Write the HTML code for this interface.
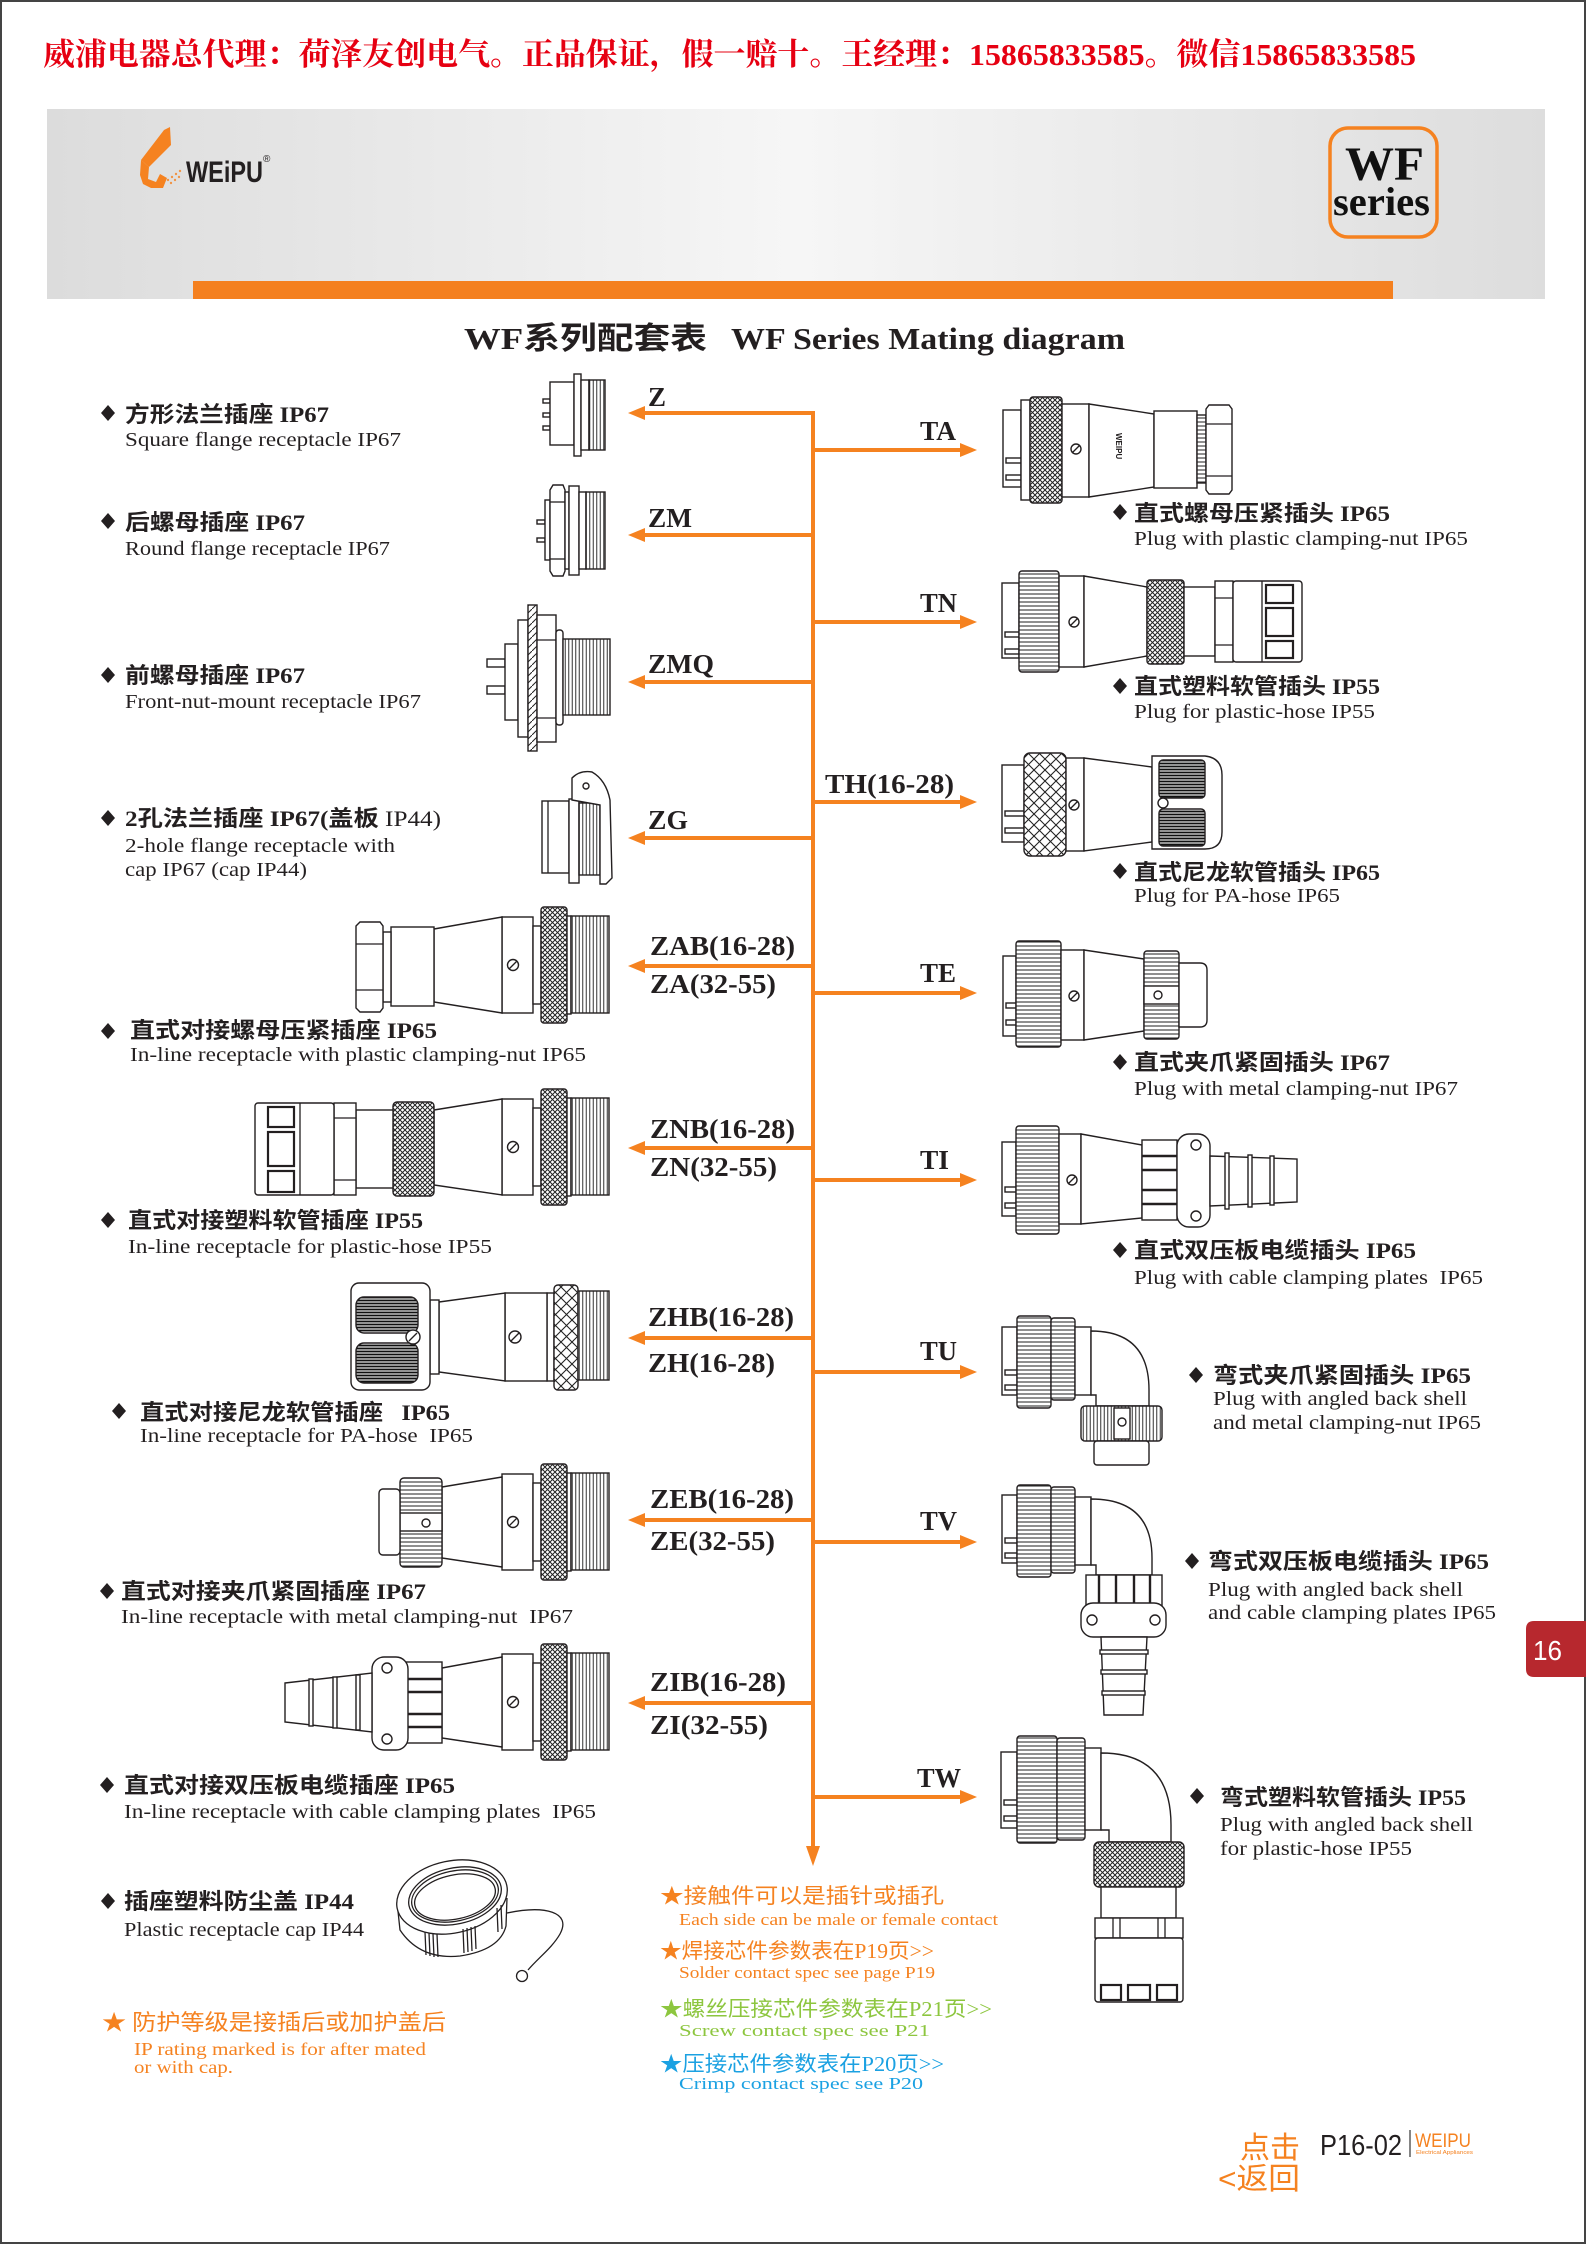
<!DOCTYPE html>
<html><head><meta charset="utf-8"><style>
html,body{margin:0;padding:0;background:#fff;}
svg{display:block;}
.h{font-family:"Liberation Serif","Noto Sans CJK SC",sans-serif;font-weight:bold;font-size:22px;fill:#231f20;}
.s{font-family:"Liberation Serif",serif;font-size:20px;fill:#231f20;}
.l{font-family:"Liberation Serif",serif;font-weight:bold;font-size:27px;fill:#231f20;}
.n{font-family:"Liberation Serif","Noto Sans CJK SC",sans-serif;font-size:21px;}
.ns{font-family:"Liberation Serif",serif;font-size:17px;}
.o{fill:#fff;stroke:#231f20;stroke-width:1.4;}
.p{stroke:#231f20;stroke-width:1.4;}
.ln{stroke:#231f20;stroke-width:1.3;fill:none;}
.bar{stroke:#231f20;stroke-width:2.4;fill:none;}
.or{fill:#f58220;}
.arr{stroke:#f58220;stroke-width:4;fill:none;}
</style></head><body>
<svg width="1588" height="2245" viewBox="0 0 1588 2245" xmlns="http://www.w3.org/2000/svg">
<defs>
<pattern id="kn" width="5" height="5" patternUnits="userSpaceOnUse"><rect width="5" height="5" fill="#fff"/><path d="M0,0L5,5M5,0L0,5" stroke="#222" stroke-width="1"/></pattern>
<pattern id="kd" width="11" height="11" patternUnits="userSpaceOnUse"><rect width="11" height="11" fill="#fff"/><path d="M0,0L11,11M11,0L0,11" stroke="#222" stroke-width="1.1"/></pattern>
<pattern id="rh" width="4" height="4" patternUnits="userSpaceOnUse"><rect width="4" height="4" fill="#fff"/><path d="M0,2H4" stroke="#333" stroke-width="1.1"/></pattern>
<pattern id="rv" width="3.5" height="4" patternUnits="userSpaceOnUse"><rect width="3.5" height="4" fill="#fff"/><path d="M1.75,0V4" stroke="#333" stroke-width="1"/></pattern>
<pattern id="dk" width="4" height="3" patternUnits="userSpaceOnUse"><rect width="4" height="3" fill="#fff"/><path d="M0,1.5H4" stroke="#111" stroke-width="1.9"/></pattern>
<pattern id="hd" width="7" height="7" patternUnits="userSpaceOnUse"><rect width="7" height="7" fill="#fff"/><path d="M0,7L7,0" stroke="#222" stroke-width="1"/></pattern>
<linearGradient id="bg" x1="0" y1="0" x2="1" y2="0">
<stop offset="0" stop-color="#dcdcdc"/><stop offset="0.5" stop-color="#f6f6f6"/><stop offset="1" stop-color="#dddddd"/>
</linearGradient>
<g id="rf">
 <rect class="o" x="502" y="-48" width="31" height="96"/>
 <circle class="o" cx="513" cy="0" r="5.5"/><line class="ln" x1="509" y1="4" x2="517" y2="-4"/>
 <rect class="o" x="533" y="-39" width="8" height="78"/>
 <rect class="p" x="541" y="-58" width="26" height="116" rx="3" fill="url(#kn)"/>
 <rect class="o" x="567" y="-49" width="4" height="98"/>
 <rect class="p" x="571" y="-49" width="38" height="97" fill="url(#rv)"/>
</g>
</defs>

<!-- border -->
<rect x="1" y="1" width="1584" height="2242" fill="none" stroke="#444" stroke-width="2"/>

<!-- red header text -->
<text x="43" y="65" textLength="1373" lengthAdjust="spacingAndGlyphs" style="font-family:'Liberation Serif','Noto Serif CJK SC',serif;font-weight:bold;font-size:31px;fill:#e60012;">威浦电器总代理：荷泽友创电气。正品保证，假一赔十。王经理：15865833585。微信15865833585</text>

<!-- banner -->
<rect x="47" y="109" width="1498" height="190" fill="url(#bg)"/>
<rect x="193" y="281" width="1200" height="18" fill="#f4801f"/>
<!-- logo -->
<polygon class="or" points="164,130 170,127 171,145 149,167 141,160"/>
<polygon class="or" points="141,160 149,167 148,179 156,182 160,174 167,178 163,188 151,188 143,184 140,175"/>
<g fill="#f58220" opacity="0.8"><circle cx="168" cy="180" r="1.2"/><circle cx="172" cy="177" r="1.2"/><circle cx="176" cy="174" r="1.2"/><circle cx="180" cy="171" r="1.2"/><circle cx="171" cy="183" r="1.2"/><circle cx="175" cy="180" r="1.2"/><circle cx="179" cy="177" r="1.2"/></g>
<text x="186" y="182" textLength="77" lengthAdjust="spacingAndGlyphs" style="font-family:'Liberation Sans',sans-serif;font-weight:bold;font-size:30px;fill:#231f20;">WEiPU</text>
<text x="263" y="162" style="font-family:'Liberation Sans',sans-serif;font-size:10px;fill:#231f20;">®</text>
<!-- WF series -->
<rect x="1330" y="128" width="107" height="109" rx="18" fill="none" stroke="#f58220" stroke-width="3.5"/>
<text x="1345" y="180" textLength="79" lengthAdjust="spacingAndGlyphs" style="font-family:'Liberation Serif',serif;font-weight:bold;font-size:48px;fill:#111;">WF</text>
<text x="1333" y="215" textLength="97" lengthAdjust="spacingAndGlyphs" style="font-family:'Liberation Serif',serif;font-weight:bold;font-size:40px;fill:#111;">series</text>

<!-- title -->
<text x="464" y="349" textLength="243" lengthAdjust="spacingAndGlyphs" style="font-family:'Liberation Serif','Noto Sans CJK SC',sans-serif;font-weight:bold;font-size:31px;fill:#231f20;">WF系列配套表</text>
<text x="731" y="349" textLength="394" lengthAdjust="spacingAndGlyphs" style="font-family:'Liberation Serif',serif;font-weight:bold;font-size:31px;fill:#231f20;">WF Series Mating diagram</text>

<!-- trunk & arrows -->
<line class="arr" x1="813" y1="411" x2="813" y2="1850"/>
<polygon class="or" points="813,1866 806,1846 820,1846"/>
<g class="arr">
<line x1="640" y1="413" x2="815" y2="413"/>
<line x1="640" y1="535" x2="815" y2="535"/>
<line x1="640" y1="682" x2="815" y2="682"/>
<line x1="640" y1="838" x2="815" y2="838"/>
<line x1="640" y1="966" x2="815" y2="966"/>
<line x1="640" y1="1148" x2="815" y2="1148"/>
<line x1="640" y1="1338" x2="815" y2="1338"/>
<line x1="640" y1="1520" x2="815" y2="1520"/>
<line x1="640" y1="1703" x2="815" y2="1703"/>
<line x1="811" y1="450" x2="962" y2="450"/>
<line x1="811" y1="622" x2="962" y2="622"/>
<line x1="811" y1="802" x2="962" y2="802"/>
<line x1="811" y1="993" x2="962" y2="993"/>
<line x1="811" y1="1180" x2="962" y2="1180"/>
<line x1="811" y1="1372" x2="962" y2="1372"/>
<line x1="811" y1="1542" x2="962" y2="1542"/>
<line x1="811" y1="1797" x2="962" y2="1797"/>
</g>
<g class="or">
<polygon points="628,413 645,406 645,420"/>
<polygon points="628,535 645,528 645,542"/>
<polygon points="628,682 645,675 645,689"/>
<polygon points="628,838 645,831 645,845"/>
<polygon points="628,966 645,959 645,973"/>
<polygon points="628,1148 645,1141 645,1155"/>
<polygon points="628,1338 645,1331 645,1345"/>
<polygon points="628,1520 645,1513 645,1527"/>
<polygon points="628,1703 645,1696 645,1710"/>
<polygon points="977,450 960,443 960,457"/>
<polygon points="977,622 960,615 960,629"/>
<polygon points="977,802 960,795 960,809"/>
<polygon points="977,993 960,986 960,1000"/>
<polygon points="977,1180 960,1173 960,1187"/>
<polygon points="977,1372 960,1365 960,1379"/>
<polygon points="977,1542 960,1535 960,1549"/>
<polygon points="977,1797 960,1790 960,1804"/>
</g>

<!-- labels left -->
<text class="l" x="648" y="406" textLength="18" lengthAdjust="spacingAndGlyphs">Z</text>
<text class="l" x="648" y="527" textLength="44" lengthAdjust="spacingAndGlyphs">ZM</text>
<text class="l" x="648" y="673" textLength="66" lengthAdjust="spacingAndGlyphs">ZMQ</text>
<text class="l" x="648" y="829" textLength="40" lengthAdjust="spacingAndGlyphs">ZG</text>
<text class="l" x="650" y="955" textLength="145" lengthAdjust="spacingAndGlyphs">ZAB(16-28)</text>
<text class="l" x="650" y="993" textLength="126" lengthAdjust="spacingAndGlyphs">ZA(32-55)</text>
<text class="l" x="650" y="1138" textLength="145" lengthAdjust="spacingAndGlyphs">ZNB(16-28)</text>
<text class="l" x="650" y="1176" textLength="127" lengthAdjust="spacingAndGlyphs">ZN(32-55)</text>
<text class="l" x="648" y="1326" textLength="146" lengthAdjust="spacingAndGlyphs">ZHB(16-28)</text>
<text class="l" x="648" y="1372" textLength="127" lengthAdjust="spacingAndGlyphs">ZH(16-28)</text>
<text class="l" x="650" y="1508" textLength="144" lengthAdjust="spacingAndGlyphs">ZEB(16-28)</text>
<text class="l" x="650" y="1550" textLength="125" lengthAdjust="spacingAndGlyphs">ZE(32-55)</text>
<text class="l" x="650" y="1691" textLength="136" lengthAdjust="spacingAndGlyphs">ZIB(16-28)</text>
<text class="l" x="650" y="1734" textLength="118" lengthAdjust="spacingAndGlyphs">ZI(32-55)</text>
<!-- labels right -->
<text class="l" x="920" y="440" textLength="36" lengthAdjust="spacingAndGlyphs">TA</text>
<text class="l" x="920" y="612" textLength="37" lengthAdjust="spacingAndGlyphs">TN</text>
<text class="l" x="825" y="793" textLength="129" lengthAdjust="spacingAndGlyphs">TH(16-28)</text>
<text class="l" x="920" y="982" textLength="36" lengthAdjust="spacingAndGlyphs">TE</text>
<text class="l" x="920" y="1169" textLength="29" lengthAdjust="spacingAndGlyphs">TI</text>
<text class="l" x="920" y="1360" textLength="37" lengthAdjust="spacingAndGlyphs">TU</text>
<text class="l" x="920" y="1530" textLength="37" lengthAdjust="spacingAndGlyphs">TV</text>
<text class="l" x="917" y="1787" textLength="44" lengthAdjust="spacingAndGlyphs">TW</text>

<!-- diamonds -->
<g fill="#231f20">
<polygon points="108,405 115,413 108,421 101,413"/>
<polygon points="108,513 115,521 108,529 101,521"/>
<polygon points="108,667 115,675 108,683 101,675"/>
<polygon points="108,810 115,818 108,826 101,818"/>
<polygon points="108,1023 115,1031 108,1039 101,1031"/>
<polygon points="108,1212 115,1220 108,1228 101,1220"/>
<polygon points="119,1403 126,1411 119,1419 112,1411"/>
<polygon points="107,1583 114,1591 107,1599 100,1591"/>
<polygon points="107,1777 114,1785 107,1793 100,1785"/>
<polygon points="108,1893 115,1901 108,1909 101,1901"/>
<polygon points="1120,504 1127,512 1120,520 1113,512"/>
<polygon points="1120,678 1127,686 1120,694 1113,686"/>
<polygon points="1120,863 1127,871 1120,879 1113,871"/>
<polygon points="1120,1054 1127,1062 1120,1070 1113,1062"/>
<polygon points="1120,1242 1127,1250 1120,1258 1113,1250"/>
<polygon points="1196,1367 1203,1375 1196,1383 1189,1375"/>
<polygon points="1192,1553 1199,1561 1192,1569 1185,1561"/>
<polygon points="1197,1788 1204,1796 1197,1804 1190,1796"/>
</g>

<!-- left headings -->
<text class="h" x="125" y="422" textLength="204" lengthAdjust="spacingAndGlyphs">方形法兰插座 IP67</text>
<text class="s" x="125" y="446" textLength="276" lengthAdjust="spacingAndGlyphs">Square flange receptacle IP67</text>
<text class="h" x="125" y="530" textLength="180" lengthAdjust="spacingAndGlyphs">后螺母插座 IP67</text>
<text class="s" x="125" y="555" textLength="265" lengthAdjust="spacingAndGlyphs">Round flange receptacle IP67</text>
<text class="h" x="125" y="683" textLength="180" lengthAdjust="spacingAndGlyphs">前螺母插座 IP67</text>
<text class="s" x="125" y="708" textLength="296" lengthAdjust="spacingAndGlyphs">Front-nut-mount receptacle IP67</text>
<text class="h" x="125" y="826" textLength="316" lengthAdjust="spacingAndGlyphs">2孔法兰插座 IP67(盖板 <tspan style="font-weight:normal">IP44)</tspan></text>
<text class="s" x="125" y="852" textLength="270" lengthAdjust="spacingAndGlyphs">2-hole flange receptacle with</text>
<text class="s" x="125" y="876" textLength="182" lengthAdjust="spacingAndGlyphs">cap IP67 (cap IP44)</text>
<text class="h" x="130" y="1038" textLength="307" lengthAdjust="spacingAndGlyphs">直式对接螺母压紧插座 IP65</text>
<text class="s" x="130" y="1061" textLength="456" lengthAdjust="spacingAndGlyphs">In-line receptacle with plastic clamping-nut IP65</text>
<text class="h" x="128" y="1228" textLength="295" lengthAdjust="spacingAndGlyphs">直式对接塑料软管插座 IP55</text>
<text class="s" x="128" y="1253" textLength="364" lengthAdjust="spacingAndGlyphs">In-line receptacle for plastic-hose IP55</text>
<text class="h" x="140" y="1420" textLength="310" lengthAdjust="spacingAndGlyphs">直式对接尼龙软管插座&#160;&#160; IP65</text>
<text class="s" x="140" y="1442" textLength="333" lengthAdjust="spacingAndGlyphs">In-line receptacle for PA-hose&#160; IP65</text>
<text class="h" x="121" y="1599" textLength="305" lengthAdjust="spacingAndGlyphs">直式对接夹爪紧固插座 IP67</text>
<text class="s" x="121" y="1623" textLength="452" lengthAdjust="spacingAndGlyphs">In-line receptacle with metal clamping-nut&#160; IP67</text>
<text class="h" x="124" y="1793" textLength="331" lengthAdjust="spacingAndGlyphs">直式对接双压板电缆插座 IP65</text>
<text class="s" x="124" y="1818" textLength="472" lengthAdjust="spacingAndGlyphs">In-line receptacle with cable clamping plates&#160; IP65</text>
<text class="h" x="124" y="1909" textLength="230" lengthAdjust="spacingAndGlyphs">插座塑料防尘盖 IP44</text>
<text class="s" x="124" y="1936" textLength="240" lengthAdjust="spacingAndGlyphs">Plastic receptacle cap IP44</text>

<!-- right headings -->
<text class="h" x="1134" y="521" textLength="256" lengthAdjust="spacingAndGlyphs">直式螺母压紧插头 IP65</text>
<text class="s" x="1134" y="545" textLength="334" lengthAdjust="spacingAndGlyphs">Plug with plastic clamping-nut IP65</text>
<text class="h" x="1134" y="694" textLength="246" lengthAdjust="spacingAndGlyphs">直式塑料软管插头 IP55</text>
<text class="s" x="1134" y="718" textLength="241" lengthAdjust="spacingAndGlyphs">Plug for plastic-hose IP55</text>
<text class="h" x="1134" y="880" textLength="246" lengthAdjust="spacingAndGlyphs">直式尼龙软管插头 IP65</text>
<text class="s" x="1134" y="902" textLength="206" lengthAdjust="spacingAndGlyphs">Plug for PA-hose IP65</text>
<text class="h" x="1134" y="1070" textLength="256" lengthAdjust="spacingAndGlyphs">直式夹爪紧固插头 IP67</text>
<text class="s" x="1134" y="1095" textLength="324" lengthAdjust="spacingAndGlyphs">Plug with metal clamping-nut IP67</text>
<text class="h" x="1134" y="1258" textLength="282" lengthAdjust="spacingAndGlyphs">直式双压板电缆插头 IP65</text>
<text class="s" x="1134" y="1284" textLength="349" lengthAdjust="spacingAndGlyphs">Plug with cable clamping plates&#160; IP65</text>
<text class="h" x="1213" y="1383" textLength="258" lengthAdjust="spacingAndGlyphs">弯式夹爪紧固插头 IP65</text>
<text class="s" x="1213" y="1405" textLength="254" lengthAdjust="spacingAndGlyphs">Plug with angled back shell</text>
<text class="s" x="1213" y="1429" textLength="268" lengthAdjust="spacingAndGlyphs">and metal clamping-nut IP65</text>
<text class="h" x="1208" y="1569" textLength="281" lengthAdjust="spacingAndGlyphs">弯式双压板电缆插头 IP65</text>
<text class="s" x="1208" y="1596" textLength="255" lengthAdjust="spacingAndGlyphs">Plug with angled back shell</text>
<text class="s" x="1208" y="1619" textLength="288" lengthAdjust="spacingAndGlyphs">and cable clamping plates IP65</text>
<text class="h" x="1220" y="1805" textLength="246" lengthAdjust="spacingAndGlyphs">弯式塑料软管插头 IP55</text>
<text class="s" x="1220" y="1831" textLength="253" lengthAdjust="spacingAndGlyphs">Plug with angled back shell</text>
<text class="s" x="1220" y="1855" textLength="192" lengthAdjust="spacingAndGlyphs">for plastic-hose IP55</text>

<!-- notes -->
<text class="n" x="102" y="2030" textLength="344" lengthAdjust="spacingAndGlyphs" style="fill:#f58220;font-size:22px;">★ 防护等级是接插后或加护盖后</text>
<text class="ns" x="134" y="2055" textLength="292" lengthAdjust="spacingAndGlyphs" style="fill:#f58220;font-size:18px;">IP rating marked is for after mated</text>
<text class="ns" x="134" y="2073" textLength="99" lengthAdjust="spacingAndGlyphs" style="fill:#f58220;font-size:18px;">or with cap.</text>

<text class="n" x="660" y="1903" textLength="284" lengthAdjust="spacingAndGlyphs" style="fill:#f58220;">★接触件可以是插针或插孔</text>
<text class="ns" x="679" y="1925" textLength="319" lengthAdjust="spacingAndGlyphs" style="fill:#f58220;">Each side can be male or female contact</text>
<text class="n" x="660" y="1958" textLength="274" lengthAdjust="spacingAndGlyphs" style="fill:#f58220;">★焊接芯件参数表在P19页&gt;&gt;</text>
<text class="ns" x="679" y="1978" textLength="256" lengthAdjust="spacingAndGlyphs" style="fill:#f58220;">Solder contact spec see page P19</text>
<text class="n" x="660" y="2016" textLength="332" lengthAdjust="spacingAndGlyphs" style="fill:#8dc63f;">★螺丝压接芯件参数表在P21页&gt;&gt;</text>
<text class="ns" x="679" y="2036" textLength="251" lengthAdjust="spacingAndGlyphs" style="fill:#8dc63f;">Screw contact spec see P21</text>
<text class="n" x="660" y="2071" textLength="284" lengthAdjust="spacingAndGlyphs" style="fill:#1ba1e2;">★压接芯件参数表在P20页&gt;&gt;</text>
<text class="ns" x="679" y="2089" textLength="244" lengthAdjust="spacingAndGlyphs" style="fill:#1ba1e2;">Crimp contact spec see P20</text>

<!-- page tab -->
<path d="M1534,1621 L1586,1621 L1586,1677 L1534,1677 Q1526,1677 1526,1669 L1526,1629 Q1526,1621 1534,1621 Z" fill="#b7282e"/>
<text x="1533" y="1660" textLength="29" lengthAdjust="spacingAndGlyphs" style="font-family:'Liberation Sans',sans-serif;font-size:28px;fill:#fff;">16</text>

<!-- footer -->
<text x="1240" y="2158" textLength="60" lengthAdjust="spacingAndGlyphs" style="font-family:'Noto Sans CJK SC',sans-serif;font-size:30px;fill:#f58220;">点击</text>
<text x="1218" y="2189" textLength="82" lengthAdjust="spacingAndGlyphs" style="font-family:'Liberation Sans','Noto Sans CJK SC',sans-serif;font-size:30px;fill:#f58220;">&lt;返回</text>
<text x="1320" y="2155" textLength="82" lengthAdjust="spacingAndGlyphs" style="font-family:'Liberation Sans',sans-serif;font-size:29px;fill:#231f20;">P16-02</text>
<line x1="1410" y1="2130" x2="1410" y2="2157" stroke="#333" stroke-width="1.2"/>
<text x="1415" y="2147" textLength="56" lengthAdjust="spacingAndGlyphs" style="font-family:'Liberation Sans',sans-serif;font-size:19px;fill:#f58220;">WEIPU</text>
<text x="1416" y="2154" textLength="57" lengthAdjust="spacingAndGlyphs" style="font-family:'Liberation Sans',sans-serif;font-size:5.5px;fill:#f58220;">Electrical Appliances</text>

<!-- ===== LEFT CONNECTORS ===== -->
<!-- Z -->
<g>
<rect class="o" x="543" y="399" width="7" height="4"/>
<rect class="o" x="543" y="413" width="7" height="4"/>
<rect class="o" x="543" y="426" width="7" height="4"/>
<rect class="o" x="550" y="382" width="24" height="63"/>
<rect class="o" x="574" y="374" width="7" height="82"/>
<rect class="o" x="581" y="380" width="8" height="70"/>
<rect class="p" x="589" y="380" width="16" height="70" fill="url(#rv)"/>
</g>
<!-- ZM -->
<g>
<rect class="o" x="537" y="520" width="8" height="4"/>
<rect class="o" x="537" y="538" width="8" height="4"/>
<rect class="o" x="545" y="500" width="5" height="60"/>
<path class="o" d="M550,490 L553,485 L563,485 L565,490 L565,571 L563,576 L553,576 L550,571 Z"/>
<line class="ln" x1="550" y1="502" x2="565" y2="502"/><line class="ln" x1="550" y1="559" x2="565" y2="559"/>
<rect class="o" x="565" y="492" width="4" height="77"/>
<rect class="o" x="569" y="486" width="10" height="89"/>
<rect class="o" x="579" y="492" width="7" height="77"/>
<rect class="p" x="586" y="492" width="19" height="77" fill="url(#rv)"/>
</g>
<!-- ZMQ -->
<g>
<rect class="o" x="487" y="659" width="18" height="8"/>
<rect class="o" x="487" y="686" width="18" height="8"/>
<rect class="o" x="505" y="644" width="13" height="76"/>
<rect class="o" x="518" y="620" width="10" height="117"/>
<rect class="p" x="528" y="605" width="9" height="146" fill="url(#hd)"/>
<rect class="o" x="537" y="615" width="19" height="127"/>
<line class="ln" x1="537" y1="640" x2="556" y2="640"/><line class="ln" x1="537" y1="718" x2="556" y2="718"/>
<rect class="o" x="556" y="630" width="7" height="95" rx="3"/>
<rect class="p" x="563" y="639" width="47" height="76" fill="url(#rv)"/>
</g>
<!-- ZG -->
<g>
<rect class="o" x="542" y="801" width="27" height="72"/>
<line class="ln" x1="548" y1="801" x2="548" y2="873"/>
<rect class="o" x="569" y="799" width="10" height="84"/>
<rect class="p" x="579" y="803" width="21" height="72" fill="url(#rv)"/>
<path class="o" d="M572,800 L572,778 Q580,770 592,772 Q606,780 610,800 L612,878 L606,884 L600,884 L600,805 Z"/>
<circle class="o" cx="586" cy="786" r="3"/>
</g>
<!-- ZA -->
<g>
<use href="#rf" transform="translate(0,965)"/>
<polygon class="o" points="434,929 502,917 502,1013 434,1002"/>
<rect class="o" x="391" y="927" width="43" height="79"/>
<rect class="o" x="383" y="932" width="8" height="70"/>
<path class="o" d="M356,926 L360,922 L380,922 L383,926 L383,1008 L380,1012 L360,1012 L356,1008 Z"/>
<line class="ln" x1="356" y1="944" x2="383" y2="944"/><line class="ln" x1="356" y1="990" x2="383" y2="990"/>
</g>
<!-- ZN -->
<g>
<use href="#rf" transform="translate(0,1147)"/>
<polygon class="o" points="434,1110 502,1099 502,1195 434,1185"/>
<rect class="p" x="393" y="1102" width="41" height="94" rx="4" fill="url(#kn)"/>
<rect class="o" x="356" y="1110" width="37" height="78"/>
<rect class="o" x="334" y="1103" width="22" height="92"/>
<line class="ln" x1="334" y1="1118" x2="356" y2="1118"/><line class="ln" x1="334" y1="1180" x2="356" y2="1180"/>
<rect class="o" x="255" y="1103" width="79" height="92" rx="3"/>
<line class="ln" x1="300" y1="1103" x2="300" y2="1195"/>
<rect class="o" x="268" y="1107" width="26" height="20" style="stroke-width:2.2"/>
<rect class="o" x="268" y="1132" width="26" height="34" style="stroke-width:2.2"/>
<rect class="o" x="268" y="1171" width="26" height="21" style="stroke-width:2.2"/>
</g>
<!-- ZH -->
<g>
<rect class="o" x="547" y="1293" width="7" height="88"/>
<rect class="p" x="554" y="1285" width="24" height="105" rx="4" fill="url(#kd)"/>
<rect class="p" x="578" y="1291" width="31" height="89" fill="url(#rv)"/>
<rect class="o" x="505" y="1293" width="42" height="88"/>
<circle class="o" cx="515" cy="1337" r="6"/><line class="ln" x1="511" y1="1341" x2="519" y2="1333"/>
<text x="476" y="1333" transform="rotate(90 481 1337)" style="font-family:'Liberation Sans',sans-serif;font-size:10px;fill:#231f20;">CE</text>
<polygon class="o" points="439,1302 505,1293 505,1381 439,1372"/>
<rect class="o" x="430" y="1300" width="9" height="74"/>
<rect class="o" x="351" y="1283" width="79" height="107" rx="8"/>
<rect class="p" x="356" y="1297" width="62" height="36" rx="8" fill="url(#dk)"/>
<rect class="p" x="356" y="1343" width="62" height="40" rx="8" fill="url(#dk)"/>
<circle class="o" cx="413" cy="1337" r="7"/><line class="ln" x1="409" y1="1341" x2="417" y2="1333"/>
</g>
<!-- ZE -->
<g>
<use href="#rf" transform="translate(0,1522)"/>
<polygon class="o" points="442,1487 502,1477 502,1567 442,1558"/>
<rect class="p" x="400" y="1478" width="42" height="89" rx="4" fill="url(#rh)"/>
<rect class="o" x="400" y="1513" width="42" height="18"/>
<circle class="o" cx="426" cy="1523" r="4"/>
<rect class="o" x="379" y="1489" width="21" height="66" rx="4"/>
</g>
<!-- ZI -->
<g>
<use href="#rf" transform="translate(0,1702)"/>
<polygon class="o" points="442,1668 502,1657 502,1747 442,1738"/>
<rect class="o" x="405" y="1662" width="37" height="81"/>
<line class="bar" x1="407" y1="1679" x2="442" y2="1679"/><line class="bar" x1="407" y1="1692" x2="442" y2="1692"/>
<line class="bar" x1="407" y1="1714" x2="442" y2="1714"/><line class="bar" x1="407" y1="1727" x2="442" y2="1727"/>
<rect class="o" x="372" y="1657" width="36" height="93" rx="12"/>
<circle class="o" cx="387" cy="1668" r="5"/><circle class="o" cx="387" cy="1739" r="5"/>
<polygon class="o" points="285,1683 372,1673 372,1732 285,1722"/>
<rect class="o" x="309" y="1679" width="4" height="47"/>
<rect class="o" x="333" y="1677" width="4" height="51"/>
<rect class="o" x="356" y="1675" width="4" height="55"/>
</g>
<!-- dust cap -->
<g fill="none" stroke="#231f20" stroke-width="1.3">
<path d="M397,1902 L400,1930 Q420,1960 460,1956 Q500,1950 506,1926 L507,1898" fill="#fff"/>
<ellipse cx="452" cy="1897" rx="56" ry="36" transform="rotate(-12 452 1897)" fill="#fff"/>
<ellipse cx="455" cy="1896" rx="47" ry="28" transform="rotate(-12 455 1896)"/>
<ellipse cx="455" cy="1896" rx="44" ry="25" transform="rotate(-12 455 1896)"/>
<ellipse cx="455" cy="1897" rx="41" ry="22" transform="rotate(-12 455 1897)"/>
<path d="M425,1932 L426,1955 M429,1933 L430,1956 M433,1934 L434,1957 M437,1934 L438,1957"/>
<path d="M463,1929 L464,1953 M467,1928 L468,1952 M471,1927 L472,1951 M475,1926 L476,1949"/>
<path d="M497,1908 L498,1932 M501,1905 L502,1929"/>
<path d="M507,1913 C545,1905 572,1912 560,1934 C552,1948 538,1958 528,1970"/>
<circle cx="522" cy="1976" r="5.5"/>
</g>

<!-- ===== RIGHT CONNECTORS ===== -->
<!-- TA -->
<g>
<rect class="o" x="1003" y="410" width="18" height="77"/>
<rect class="o" x="1006" y="458" width="15" height="5"/><rect class="o" x="1006" y="475" width="15" height="5"/>
<rect class="o" x="1021" y="400" width="9" height="100"/>
<rect class="p" x="1030" y="397" width="32" height="106" rx="3" fill="url(#kn)"/>
<rect class="o" x="1062" y="404" width="27" height="93"/>
<polygon class="o" points="1089,404 1154,414 1154,487 1089,497"/>
<rect class="o" x="1154" y="411" width="43" height="77"/>
<rect class="p" x="1197" y="415" width="9" height="68" fill="url(#rh)"/>
<path class="o" d="M1206,409 L1209,405 L1229,405 L1232,409 L1232,490 L1229,494 L1209,494 L1206,490 Z"/>
<line class="ln" x1="1206" y1="424" x2="1232" y2="424"/><line class="ln" x1="1206" y1="476" x2="1232" y2="476"/>
<circle class="o" cx="1076" cy="449" r="5"/><line class="ln" x1="1072" y1="453" x2="1080" y2="445"/>
<text x="1100" y="449" transform="rotate(90 1116 449)" style="font-family:'Liberation Sans',sans-serif;font-weight:bold;font-size:8px;fill:#231f20;">WEIPU</text>
</g>
<!-- TN -->
<g>
<rect class="o" x="1002" y="583" width="17" height="75"/>
<rect class="o" x="1005" y="632" width="14" height="5"/><rect class="o" x="1005" y="649" width="14" height="5"/>
<rect class="p" x="1019" y="571" width="40" height="101" rx="3" fill="url(#rh)"/>
<rect class="o" x="1059" y="576" width="25" height="91"/>
<circle class="o" cx="1074" cy="622" r="5"/><line class="ln" x1="1070" y1="626" x2="1078" y2="618"/>
<polygon class="o" points="1084,576 1147,587 1147,656 1084,667"/>
<rect class="p" x="1147" y="580" width="37" height="84" rx="3" fill="url(#kn)"/>
<rect class="o" x="1184" y="587" width="31" height="69"/>
<rect class="o" x="1215" y="581" width="18" height="81"/>
<line class="ln" x1="1215" y1="598" x2="1233" y2="598"/><line class="ln" x1="1215" y1="645" x2="1233" y2="645"/>
<rect class="o" x="1233" y="581" width="69" height="81" rx="3"/>
<line class="ln" x1="1262" y1="581" x2="1262" y2="662"/>
<rect class="o" x="1266" y="585" width="27" height="18" style="stroke-width:2.2"/>
<rect class="o" x="1266" y="608" width="27" height="28" style="stroke-width:2.2"/>
<rect class="o" x="1266" y="641" width="27" height="17" style="stroke-width:2.2"/>
</g>
<!-- TH -->
<g>
<rect class="o" x="1002" y="765" width="22" height="77"/>
<rect class="o" x="1005" y="811" width="19" height="5"/><rect class="o" x="1005" y="828" width="19" height="5"/>
<rect class="p" x="1024" y="753" width="42" height="103" rx="6" fill="url(#kd)"/>
<rect class="o" x="1066" y="758" width="18" height="93"/>
<circle class="o" cx="1074" cy="805" r="5"/><line class="ln" x1="1070" y1="809" x2="1078" y2="801"/>
<text x="1103" y="801" transform="rotate(90 1109 805)" style="font-family:'Liberation Sans',sans-serif;font-size:10px;fill:#231f20;">CE</text>
<polygon class="o" points="1084,758 1152,767 1152,842 1084,851"/>
<path class="o" d="M1152,756 L1205,756 Q1222,758 1222,775 L1222,832 Q1222,849 1205,849 L1152,849 Z"/>
<rect class="p" x="1159" y="760" width="46" height="38" rx="4" fill="url(#dk)"/>
<rect class="p" x="1159" y="809" width="46" height="37" rx="4" fill="url(#dk)"/>
<circle class="o" cx="1163" cy="803" r="5"/>
</g>
<!-- TE -->
<g>
<rect class="o" x="1003" y="956" width="13" height="80"/>
<rect class="o" x="1006" y="1003" width="10" height="5"/><rect class="o" x="1006" y="1020" width="10" height="5"/>
<rect class="p" x="1016" y="941" width="45" height="106" rx="3" fill="url(#rh)"/>
<rect class="o" x="1061" y="950" width="23" height="90"/>
<circle class="o" cx="1074" cy="996" r="5"/><line class="ln" x1="1070" y1="1000" x2="1078" y2="992"/>
<polygon class="o" points="1084,950 1144,959 1144,1031 1084,1040"/>
<rect class="p" x="1144" y="951" width="35" height="88" rx="3" fill="url(#rh)"/>
<rect class="o" x="1144" y="986" width="35" height="18"/>
<circle class="o" cx="1158" cy="995" r="4"/>
<path class="o" d="M1179,963 L1200,963 Q1207,963 1207,970 L1207,1020 Q1207,1027 1200,1027 L1179,1027 Z"/>
</g>
<!-- TI -->
<g>
<rect class="o" x="1002" y="1142" width="14" height="74"/>
<rect class="o" x="1005" y="1187" width="11" height="5"/><rect class="o" x="1005" y="1203" width="11" height="5"/>
<rect class="p" x="1016" y="1126" width="43" height="108" rx="3" fill="url(#rh)"/>
<rect class="o" x="1059" y="1134" width="22" height="90"/>
<circle class="o" cx="1072" cy="1180" r="5"/><line class="ln" x1="1068" y1="1184" x2="1076" y2="1176"/>
<polygon class="o" points="1081,1134 1142,1145 1142,1218 1081,1224"/>
<rect class="o" x="1142" y="1140" width="35" height="80"/>
<line class="bar" x1="1142" y1="1156" x2="1177" y2="1156"/><line class="bar" x1="1142" y1="1170" x2="1177" y2="1170"/>
<line class="bar" x1="1142" y1="1190" x2="1177" y2="1190"/><line class="bar" x1="1142" y1="1204" x2="1177" y2="1204"/>
<rect class="o" x="1177" y="1134" width="33" height="93" rx="12"/>
<circle class="o" cx="1196" cy="1145" r="5"/><circle class="o" cx="1196" cy="1216" r="5"/>
<polygon class="o" points="1210,1156 1297,1159 1297,1202 1210,1206"/>
<rect class="o" x="1225" y="1153" width="4" height="56"/>
<rect class="o" x="1248" y="1155" width="4" height="52"/>
<rect class="o" x="1270" y="1156" width="4" height="49"/>
</g>
<!-- TU -->
<g>
<rect class="o" x="1002" y="1327" width="15" height="68"/>
<rect class="o" x="1005" y="1370" width="12" height="5"/><rect class="o" x="1005" y="1385" width="12" height="5"/>
<rect class="p" x="1017" y="1316" width="34" height="92" rx="3" fill="url(#rh)"/>
<rect class="p" x="1051" y="1318" width="24" height="82" rx="3" fill="url(#rh)"/>
<rect class="o" x="1075" y="1327" width="16" height="68"/>
<path class="o" d="M1091,1331 Q1149,1331 1149,1390 L1149,1406 L1096,1406 L1096,1395 L1091,1395 Z"/>
<rect class="p" x="1081" y="1406" width="81" height="35" rx="4" fill="url(#rv)"/>
<rect class="o" x="1114" y="1408" width="16" height="31"/>
<circle class="o" cx="1122" cy="1422" r="4"/>
<rect class="o" x="1094" y="1441" width="55" height="24" rx="3"/>
</g>
<!-- TV -->
<g>
<rect class="o" x="1002" y="1495" width="15" height="68"/>
<rect class="o" x="1005" y="1538" width="12" height="5"/><rect class="o" x="1005" y="1553" width="12" height="5"/>
<rect class="p" x="1017" y="1485" width="34" height="92" rx="3" fill="url(#rh)"/>
<rect class="p" x="1051" y="1487" width="24" height="86" rx="3" fill="url(#rh)"/>
<rect class="o" x="1075" y="1497" width="16" height="68"/>
<path class="o" d="M1091,1499 Q1152,1499 1152,1558 L1152,1575 L1096,1575 L1096,1565 L1091,1565 Z"/>
<rect class="o" x="1086" y="1575" width="76" height="33"/>
<line class="bar" x1="1099" y1="1575" x2="1099" y2="1608"/><line class="bar" x1="1116" y1="1575" x2="1116" y2="1608"/>
<line class="bar" x1="1134" y1="1575" x2="1134" y2="1608"/><line class="bar" x1="1150" y1="1575" x2="1150" y2="1608"/>
<rect class="o" x="1081" y="1603" width="85" height="34" rx="12"/>
<circle class="o" cx="1092" cy="1620" r="5"/><circle class="o" cx="1155" cy="1620" r="5"/>
<path class="o" d="M1101,1637 L1147,1637 L1143,1715 L1104,1715 Z"/>
<rect class="o" x="1100" y="1650" width="48" height="4"/>
<rect class="o" x="1101" y="1670" width="46" height="4"/>
<rect class="o" x="1102" y="1691" width="43" height="4"/>
</g>
<!-- TW -->
<g>
<rect class="o" x="1001" y="1752" width="16" height="76"/>
<rect class="o" x="1004" y="1800" width="13" height="5"/><rect class="o" x="1004" y="1816" width="13" height="5"/>
<rect class="p" x="1017" y="1736" width="40" height="107" rx="3" fill="url(#rh)"/>
<rect class="p" x="1057" y="1738" width="28" height="102" rx="3" fill="url(#rh)"/>
<rect class="o" x="1085" y="1748" width="16" height="82"/>
<path class="o" d="M1101,1753 Q1171,1753 1171,1825 L1171,1842 L1109,1842 L1109,1830 L1101,1830 Z"/>
<rect class="p" x="1094" y="1842" width="90" height="45" rx="5" fill="url(#kn)"/>
<rect class="o" x="1101" y="1887" width="75" height="31"/>
<rect class="o" x="1095" y="1918" width="88" height="20"/>
<line class="ln" x1="1113" y1="1918" x2="1113" y2="1938"/><line class="ln" x1="1120" y1="1918" x2="1120" y2="1938"/>
<line class="ln" x1="1158" y1="1918" x2="1158" y2="1938"/><line class="ln" x1="1165" y1="1918" x2="1165" y2="1938"/>
<rect class="o" x="1095" y="1938" width="88" height="64" rx="3"/>
<rect class="o" x="1101" y="1985" width="20" height="15" style="stroke-width:2.2"/>
<rect class="o" x="1128" y="1985" width="22" height="15" style="stroke-width:2.2"/>
<rect class="o" x="1157" y="1985" width="20" height="15" style="stroke-width:2.2"/>
</g>
</svg>
</body></html>
